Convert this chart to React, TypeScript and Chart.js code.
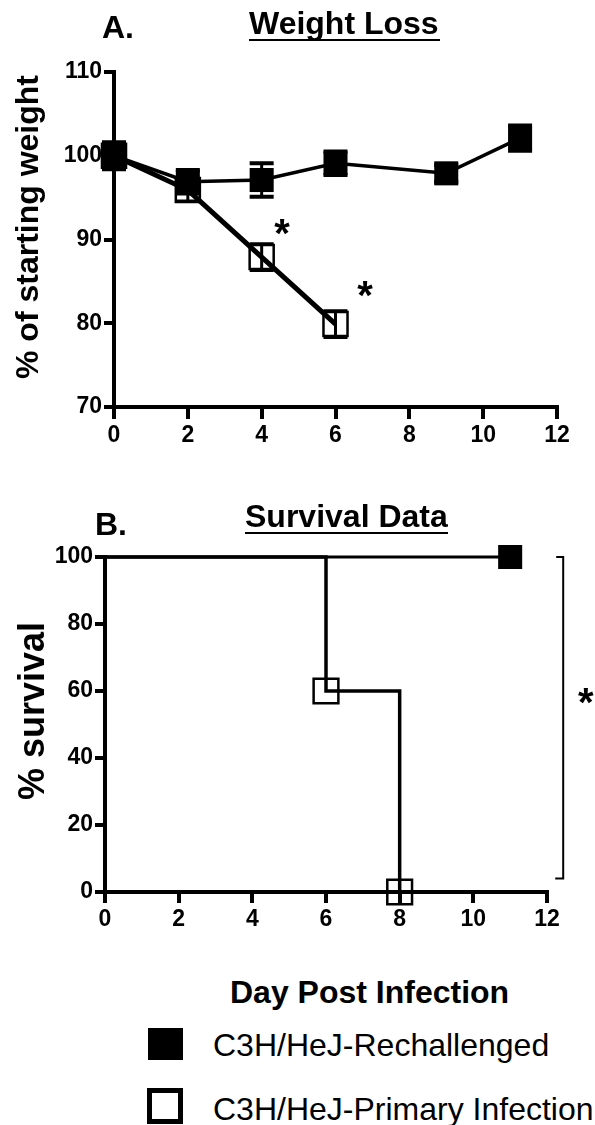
import React, { useEffect, useRef } from "react";
import { Chart, registerables } from "chart.js";

Chart.register(...registerables);

// ---------- data ----------
const dayTicks = [0, 2, 4, 6, 8, 10, 12];
const weightTicks = [70, 80, 90, 100, 110];
const survivalTicks = [0, 20, 40, 60, 80, 100];

const rechDays = [0, 2, 4, 6, 9, 11];
const rechWeight = [100, 96.9, 97.1, 99.1, 97.9, 102.1];
const rechErr = [1.6, 1.4, 2.0, 1.4, 1.0, 1.5];

const primDays = [0, 2, 4, 6];
const primWeight = [100, 95.9, 87.9, 79.9];
const primErr = [0, 1.3, 1.6, 1.6];

const weightStarDays = [4.55, 6.8];
const weightStarValues = [91.8, 84.4];

const survRechDays = [0, 11];
const survRech = [100, 100];
const survPrimDays = [0, 6, 8];
const survPrim = [100, 60, 0];

const bracketDay = 12.44;
const bracketRange = [100, 4];
const survStarDay = 13.05;
const survStarValue = 59.4;

const seriesNames = ["C3H/HeJ-Rechallenged", "C3H/HeJ-Primary Infection"];

// ---------- styling ----------
const SANS = "'Liberation Sans', Arial, Helvetica, sans-serif";

function axisCommon(tickLen: number) {
  return {
    border: { display: true, color: "#000", width: 4 },
    grid: {
      display: true,
      drawOnChartArea: false,
      drawTicks: true,
      color: "#000",
      lineWidth: 4,
      tickLength: tickLen,
      tickColor: "#000",
      tickWidth: 4,
    },
    ticks: {
      color: "#000",
      font: { family: SANS, size: 23, weight: "bold" as const },
      autoSkip: false,
      maxRotation: 0,
      minRotation: 0,
    },
  };
}

const errorBarPlugin = {
  id: "errorBars",
  afterDatasetsDraw(chart: any) {
    const ctx = chart.ctx;
    const ys = chart.scales.y;
    const errs = [rechErr, primErr];
    const capW = [4, 3];
    chart.data.datasets.forEach((ds: any, di: number) => {
      const meta = chart.getDatasetMeta(di);
      meta.data.forEach((pt: any, i: number) => {
        const e = errs[di][i];
        if (!e) return;
        const v = ds.data[i].y;
        const top = ys.getPixelForValue(v + e);
        const bot = ys.getPixelForValue(v - e);
        ctx.save();
        ctx.strokeStyle = "#000";
        ctx.lineWidth = 3;
        ctx.beginPath();
        ctx.moveTo(pt.x, top);
        ctx.lineTo(pt.x, bot);
        ctx.stroke();
        ctx.lineWidth = capW[di];
        ctx.beginPath();
        ctx.moveTo(pt.x - 12, top);
        ctx.lineTo(pt.x + 12, top);
        ctx.moveTo(pt.x - 12, bot);
        ctx.lineTo(pt.x + 12, bot);
        ctx.stroke();
        ctx.restore();
      });
    });
  },
};

function drawStar(ctx: CanvasRenderingContext2D, x: number, y: number) {
  const size = 40;
  ctx.save();
  ctx.fillStyle = "#000";
  ctx.font = `bold ${size}px ${SANS}`;
  ctx.textAlign = "center";
  ctx.textBaseline = "alphabetic";
  ctx.fillText("*", x, y + size * 0.57);
  ctx.restore();
}

const weightStarPlugin = {
  id: "weightStars",
  afterDraw(chart: any) {
    const xs = chart.scales.x;
    const ys = chart.scales.y;
    weightStarDays.forEach((d, i) => {
      drawStar(chart.ctx, xs.getPixelForValue(d), ys.getPixelForValue(weightStarValues[i]));
    });
  },
};

const bracketPlugin = {
  id: "bracket",
  afterDraw(chart: any) {
    const ctx = chart.ctx;
    const xs = chart.scales.x;
    const ys = chart.scales.y;
    const x = xs.getPixelForValue(bracketDay);
    const yT = ys.getPixelForValue(bracketRange[0]);
    const yB = ys.getPixelForValue(bracketRange[1]);
    ctx.save();
    ctx.strokeStyle = "#000";
    ctx.lineWidth = 2;
    ctx.beginPath();
    ctx.moveTo(x - 7, yT);
    ctx.lineTo(x, yT);
    ctx.lineTo(x, yB);
    ctx.lineTo(x - 8, yB);
    ctx.stroke();
    ctx.restore();
    drawStar(ctx, xs.getPixelForValue(survStarDay), ys.getPixelForValue(survStarValue));
  },
};

function WeightChart() {
  const ref = useRef<HTMLCanvasElement>(null);
  useEffect(() => {
    const chart = new Chart(ref.current as HTMLCanvasElement, {
      type: "line",
      data: {
        datasets: [
          {
            label: seriesNames[0],
            data: rechDays.map((d, i) => ({ x: d, y: rechWeight[i] })),
            borderColor: "#000",
            borderWidth: 3.5,
            pointStyle: "rect",
            pointRadius: 17,
            pointBackgroundColor: "#000",
            pointBorderColor: "#000",
            pointBorderWidth: 0,
            clip: false as any,
          },
          {
            label: seriesNames[1],
            data: primDays.map((d, i) => ({ x: d, y: primWeight[i] })),
            borderColor: "#000",
            borderWidth: 5,
            pointStyle: "rect",
            pointRadius: 17,
            pointBackgroundColor: "rgba(0,0,0,0)",
            pointBorderColor: "#000",
            pointBorderWidth: 2.5,
            clip: false as any,
          },
        ],
      },
      options: {
        responsive: false,
        animation: false,
        layout: { padding: { top: 72, right: 38, left: 0, bottom: 0 } },
        plugins: { legend: { display: false }, tooltip: { enabled: false } },
        scales: {
          x: {
            type: "linear",
            min: 0,
            max: 12,
            ...axisCommon(12),
            ticks: { ...axisCommon(12).ticks, padding: 3 },
            afterBuildTicks: (s: any) => {
              s.ticks = dayTicks.map((v) => ({ value: v }));
            },
            afterFit: (s: any) => {
              s.height = 53;
            },
          },
          y: {
            type: "linear",
            min: 70,
            max: 110,
            ...axisCommon(10),
            ticks: { ...axisCommon(10).ticks, padding: 2 },
            afterBuildTicks: (s: any) => {
              s.ticks = weightTicks.map((v) => ({ value: v }));
            },
            afterFit: (s: any) => {
              s.width = 114;
            },
          },
        },
      } as any,
      plugins: [errorBarPlugin, weightStarPlugin],
    });
    return () => chart.destroy();
  }, []);
  return (
    <canvas
      ref={ref}
      width={595}
      height={460}
      style={{ position: "absolute", left: 0, top: 0, width: 595, height: 460 }}
    />
  );
}

function SurvivalChart() {
  const ref = useRef<HTMLCanvasElement>(null);
  useEffect(() => {
    const chart = new Chart(ref.current as HTMLCanvasElement, {
      type: "line",
      data: {
        datasets: [
          {
            label: seriesNames[0],
            data: survRechDays.map((d, i) => ({ x: d, y: survRech[i] })),
            borderColor: "#000",
            borderWidth: 3,
            pointStyle: "rect",
            pointRadius: survRechDays.map((_, i) => (i === 0 ? 0 : 17)),
            pointBackgroundColor: "#000",
            pointBorderColor: "#000",
            pointBorderWidth: 0,
            clip: false as any,
          },
          {
            label: seriesNames[1],
            data: survPrimDays.map((d, i) => ({ x: d, y: survPrim[i] })),
            stepped: "before",
            borderColor: "#000",
            borderWidth: 3.5,
            pointStyle: "rect",
            pointRadius: survPrimDays.map((_, i) => (i === 0 ? 0 : 17.5)),
            pointBackgroundColor: "rgba(0,0,0,0)",
            pointBorderColor: "#000",
            pointBorderWidth: 2.5,
            clip: false as any,
          },
        ],
      },
      options: {
        responsive: false,
        animation: false,
        layout: { padding: { top: 97, right: 48, left: 0, bottom: 0 } },
        plugins: { legend: { display: false }, tooltip: { enabled: false } },
        scales: {
          x: {
            type: "linear",
            min: 0,
            max: 12,
            ...axisCommon(11),
            ticks: { ...axisCommon(11).ticks, padding: 3 },
            afterBuildTicks: (s: any) => {
              s.ticks = dayTicks.map((v) => ({ value: v }));
            },
            afterFit: (s: any) => {
              s.height = 48;
            },
          },
          y: {
            type: "linear",
            min: 0,
            max: 100,
            ...axisCommon(10),
            ticks: { ...axisCommon(10).ticks, padding: 2 },
            afterBuildTicks: (s: any) => {
              s.ticks = survivalTicks.map((v) => ({ value: v }));
            },
            afterFit: (s: any) => {
              s.width = 105;
            },
          },
        },
      } as any,
      plugins: [bracketPlugin],
    });
    return () => chart.destroy();
  }, []);
  return (
    <canvas
      ref={ref}
      width={595}
      height={480}
      style={{ position: "absolute", left: 0, top: 460, width: 595, height: 480 }}
    />
  );
}

function Text(props: {
  text: string;
  left: number;
  top: number;
  size: number;
  bold?: boolean;
  style?: React.CSSProperties;
}) {
  return (
    <div
      style={{
        position: "absolute",
        left: props.left,
        top: props.top,
        fontSize: props.size,
        lineHeight: `${props.size}px`,
        fontWeight: props.bold ? 700 : 400,
        fontFamily: SANS,
        whiteSpace: "nowrap",
        color: "#000",
        ...props.style,
      }}
    >
      {props.text}
    </div>
  );
}

function VText(props: { text: string; cx: number; cy: number; size: number }) {
  const w = 420;
  return (
    <div
      style={{
        position: "absolute",
        left: props.cx - w / 2,
        top: props.cy - props.size / 2,
        width: w,
        height: props.size,
        lineHeight: `${props.size}px`,
        fontSize: props.size,
        fontWeight: 700,
        fontFamily: SANS,
        textAlign: "center",
        whiteSpace: "nowrap",
        transform: "rotate(-90deg)",
        color: "#000",
      }}
    >
      {props.text}
    </div>
  );
}

export default function App() {
  return (
    <div
      style={{
        position: "fixed",
        left: 0,
        top: 0,
        width: 595,
        height: 1125,
        background: "#fff",
        overflow: "hidden",
      }}
    >
      <WeightChart />
      <SurvivalChart />

      <Text text="A." left={102} top={11} size={32} bold />
      <Text text="Weight Loss" left={249} top={7} size={32} bold />
      <div style={{ position: "absolute", left: 249, top: 39, width: 191, height: 2, background: "#000" }} />
      <VText text="% of starting weight" cx={27} cy={227} size={32} />

      <Text text="B." left={95} top={508} size={32} bold />
      <Text text="Survival Data" left={245} top={500} size={32} bold />
      <div style={{ position: "absolute", left: 245, top: 532, width: 203, height: 2, background: "#000" }} />
      <VText text="% survival" cx={32} cy={711} size={36} />

      <Text text="Day Post Infection" left={230} top={976} size={32} bold />

      <div style={{ position: "absolute", left: 148, top: 1028, width: 35, height: 32, background: "#000" }} />
      <Text text={seriesNames[0]} left={213} top={1029} size={32} />
      <div
        style={{
          position: "absolute",
          left: 147,
          top: 1088,
          width: 36,
          height: 36,
          border: "5px solid #000",
          boxSizing: "border-box",
          background: "#fff",
        }}
      />
      <Text text={seriesNames[1]} left={213} top={1093} size={32} />
    </div>
  );
}
